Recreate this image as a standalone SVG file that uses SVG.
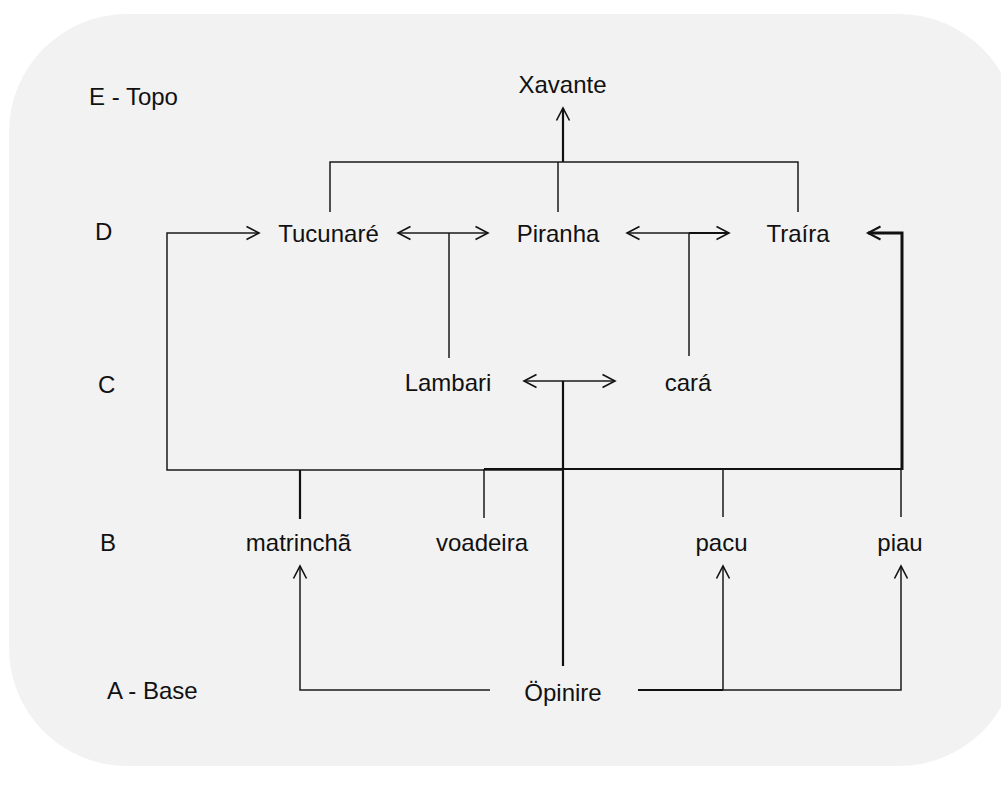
<svg xmlns="http://www.w3.org/2000/svg" width="1001" height="785" viewBox="0 0 1001 785">
<defs>
<marker id="ah" viewBox="-14 -8 16 16" markerWidth="16" markerHeight="16" refX="0" refY="0" orient="auto-start-reverse" markerUnits="userSpaceOnUse">
<path d="M -12.5 -6.5 L 0 0 L -12.5 6.5" fill="none" stroke="#111" stroke-width="1.6"/>
</marker>
</defs>
<style>
text { font-family: "Liberation Sans", Arial, sans-serif; font-size: 24px; fill: #111; }
.n text { text-anchor: middle; }
.c { fill: none; stroke: #1a1a1a; stroke-width: 1.5; }
.t { fill: none; stroke: #111; stroke-width: 2.2; }
.tt { fill: none; stroke: #111; stroke-width: 3; }
</style>
<rect x="0" y="0" width="1001" height="785" fill="#ffffff"/>
<rect x="9" y="14" width="1008" height="752" rx="118" ry="118" fill="#f2f2f2"/>

<g id="levels">
<text x="89" y="105">E - Topo</text>
<text x="95" y="240">D</text>
<text x="98" y="393">C</text>
<text x="100" y="551">B</text>
<text x="107" y="699">A - Base</text>
</g>

<g id="connectors">
<!-- top -->
<line class="t" x1="563" y1="162" x2="563" y2="108" marker-end="url(#ah)"/>
<polyline class="c" points="330,212 330,162 798,162 798,212"/>
<line class="c" x1="558" y1="162" x2="558" y2="212"/>
<!-- D level bidirectional -->
<line class="c" x1="398" y1="233" x2="488" y2="233" marker-start="url(#ah)" marker-end="url(#ah)"/>
<line class="c" x1="449" y1="233" x2="449" y2="358"/>
<line class="c" x1="627" y1="233" x2="729" y2="233" marker-start="url(#ah)" marker-end="url(#ah)"/>
<line class="t" x1="689" y1="233" x2="727" y2="233"/>
<line class="c" x1="689" y1="233" x2="689" y2="356"/>
<!-- C level -->
<line class="c" x1="524" y1="381" x2="615" y2="381" marker-start="url(#ah)" marker-end="url(#ah)"/>
<line class="t" x1="563" y1="381" x2="563" y2="666"/>
<!-- left loop -->
<polyline class="c" points="563,470 167,470 167,233 259,233" marker-end="url(#ah)"/>
<line class="t" x1="300" y1="470" x2="300" y2="519"/>
<!-- right loop -->
<line class="t" x1="484" y1="469" x2="903" y2="469"/>
<polyline class="c" points="484,518 484,469"/>
<line class="c" x1="723" y1="469" x2="723" y2="517"/>
<line class="c" x1="901" y1="469" x2="901" y2="517"/>
<polyline class="tt" points="902,470 902,233 868,233"/>
<path d="M 880.5 226.5 L 868 233 L 880.5 239.5" fill="none" stroke="#111" stroke-width="2"/>
<!-- bottom -->
<polyline class="c" points="490,690 300,690 300,566" marker-end="url(#ah)"/>
<line class="t" x1="638" y1="690" x2="723" y2="690"/>
<polyline class="c" points="723,690 901,690 901,566" marker-end="url(#ah)"/>
<line class="c" x1="723" y1="690" x2="723" y2="566" marker-end="url(#ah)"/>
</g>

<g id="node-xavante" class="n"><text x="562.5" y="93">Xavante</text></g>
<g id="node-tucunare" class="n"><text x="328.5" y="242">Tucunaré</text></g>
<g id="node-piranha" class="n"><text x="558" y="242">Piranha</text></g>
<g id="node-traira" class="n"><text x="798" y="242">Traíra</text></g>
<g id="node-lambari" class="n"><text x="448" y="391">Lambari</text></g>
<g id="node-cara" class="n"><text x="688" y="391">cará</text></g>
<g id="node-matrincha" class="n"><text x="298.5" y="551">matrinchã</text></g>
<g id="node-voadeira" class="n"><text x="482" y="551">voadeira</text></g>
<g id="node-pacu" class="n"><text x="721.5" y="551">pacu</text></g>
<g id="node-piau" class="n"><text x="900" y="551">piau</text></g>
<g id="node-opinire" class="n"><text x="563" y="701">Öpinire</text></g>
</svg>
